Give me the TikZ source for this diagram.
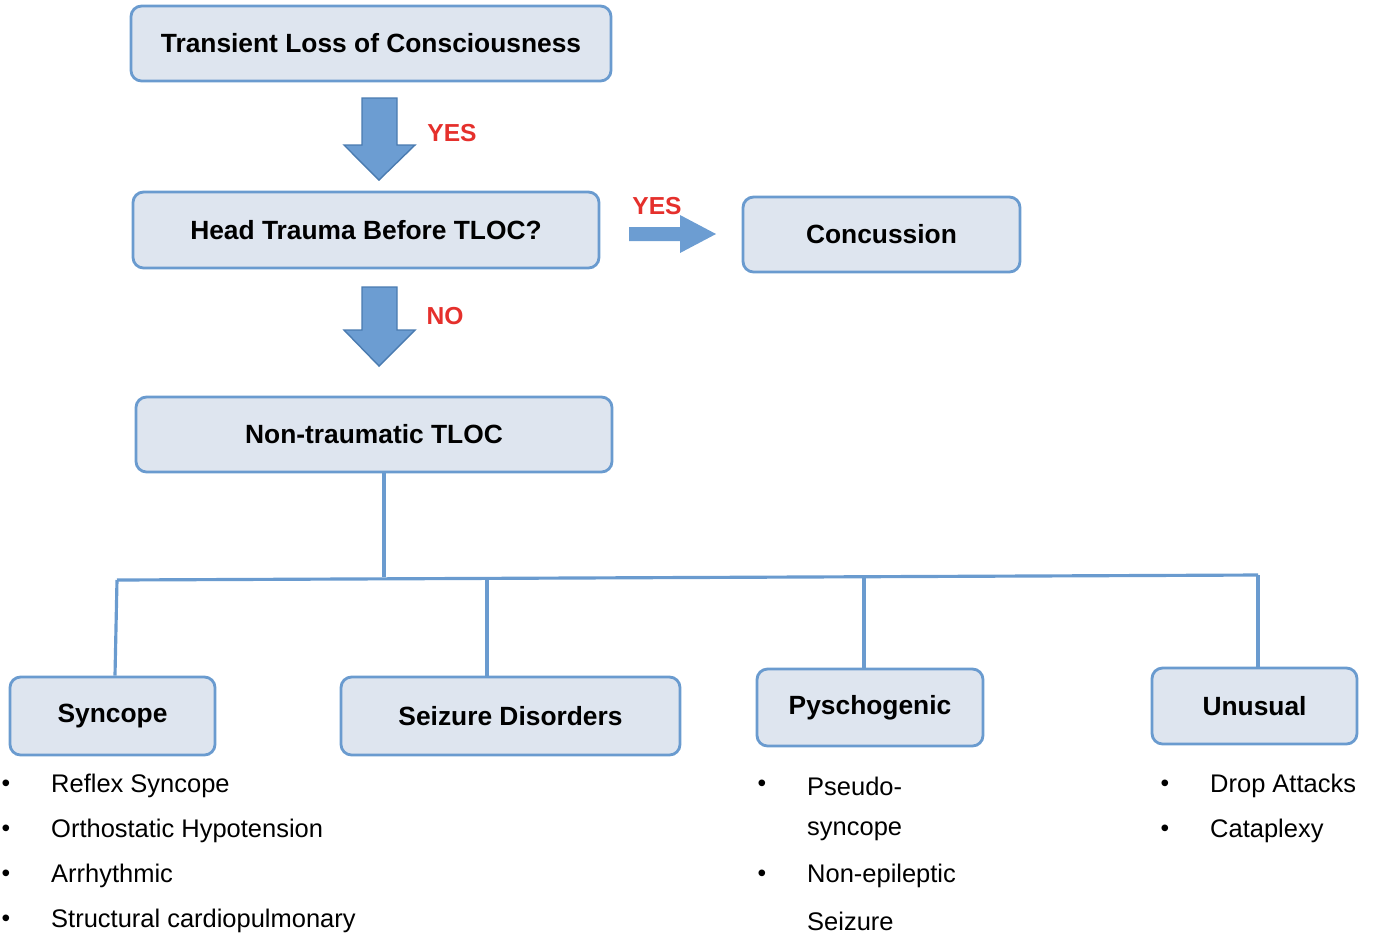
\documentclass[tikz,border=0pt]{standalone}
\usepackage{fontspec}
\setmainfont{Liberation Sans}
\begin{document}
\begin{tikzpicture}[x=0.02cm,y=-0.02cm,
  box/.style={draw=edge,fill=boxfill,line width=1.6pt,rounded corners=6pt,font=\fontsize{15}{18}\selectfont\bfseries,inner sep=0pt},
  lab/.style={text=labred,font=\fontsize{14}{16}\selectfont\bfseries},
  item/.style={anchor=west,font=\fontsize{14.5}{17}\selectfont},
  dot/.style={anchor=center,font=\fontsize{14}{16}\selectfont},
  tree/.style={draw=edge,line width=1.8pt},
  blk/.style={fill=arrowfill,draw=arrowedge,line width=0.8pt}]
\definecolor{edge}{HTML}{6A9BCF}
\definecolor{boxfill}{HTML}{DEE5EF}
\definecolor{labred}{HTML}{E5302C}
\definecolor{arrowfill}{HTML}{6C9DD2}
\definecolor{arrowedge}{HTML}{4A7BB0}
\useasboundingbox (0,0) rectangle (1379,938);
\newcommand{\bx}[6]{\node[box,minimum width={(#4-#2)*0.02cm},minimum height={(#5-#3)*0.02cm}] (#1) at ({(#2+#4)/2},{(#3+#5)/2}) {#6};}
\bx{tloc}{131}{6}{611}{81}{Transient Loss of Consciousness}
\bx{head}{133}{192}{599}{268}{Head Trauma Before TLOC?}
\bx{conc}{743}{197}{1020}{272}{Concussion}
\bx{nt}{136}{397}{612}{472}{Non-traumatic TLOC}
\bx{sync}{10}{677}{215}{755}{Syncope}
\bx{seiz}{341}{677}{680}{755}{Seizure Disorders}
\bx{psy}{757}{669}{983}{746}{Pyschogenic}
\bx{unu}{1152}{668}{1357}{744}{Unusual}
% block arrows
\path[blk] (362,98)--(397,98)--(397,145)--(415,145)--(379,180)--(344,145)--(362,145)--cycle;
\path[blk] (362,287)--(397,287)--(397,330)--(415,330)--(379,366)--(344,330)--(362,330)--cycle;
\path[fill=arrowfill] (629,227)--(680,227)--(680,215)--(716,234)--(680,253)--(680,241)--(629,241)--cycle;
\node[lab] at (452,133) {YES};
\node[lab] at (445,316) {NO};
\node[lab] at (657,206) {YES};
% tree
\coordinate (j0) at (384,577);
\coordinate (jl) at (117,580);
\coordinate (jr) at (1258,575);
\draw[tree] (nt.south -| j0) -- (j0);
\draw[tree] (jl) -- (jr);
\draw[tree] (jl) -- (sync.north -| 115,0);
\draw[tree] (487,578.5) -- (seiz.north -| 487,0);
\draw[tree] (864,576) -- (psy.north -| 864,0);
\draw[tree] (jr) -- (unu.north -| 1258,0);
% lists
\foreach \y/\t in {786/Reflex Syncope,831/Orthostatic Hypotension,876/Arrhythmic,921/Structural cardiopulmonary}{
  \node[dot] at (6,\y) {•}; \node[item] at (45,\y) {\t};}
\foreach \y/\t in {786/Pseudo-,831/syncope,876/Non-epileptic,921/Seizure}{
  \node[item] at (801,\y) {\t};}
\foreach \y in {786,876}{\node[dot] at (762,\y) {•};}
\foreach \y/\t in {786/Drop Attacks,831/Cataplexy}{
  \node[dot] at (1165,\y) {•}; \node[item] at (1204,\y) {\t};}
\end{tikzpicture}
\end{document}
